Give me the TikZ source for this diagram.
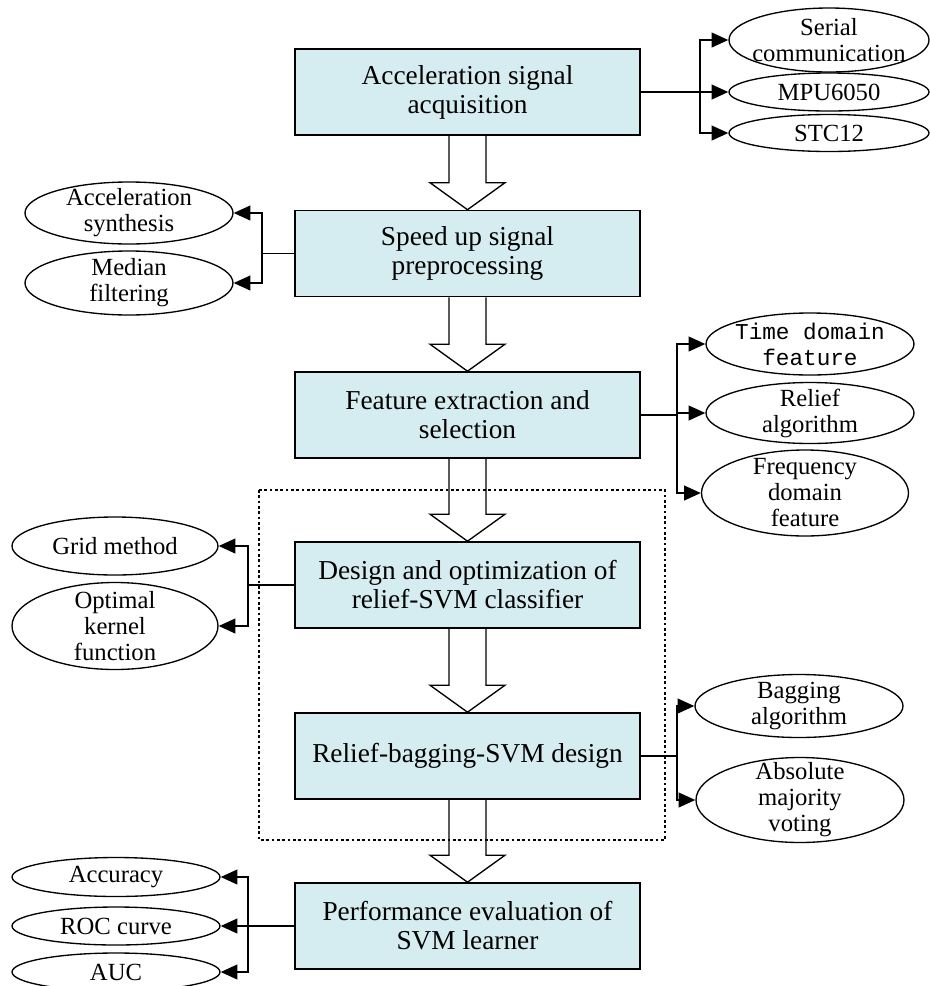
\documentclass[tikz,border=0pt]{standalone}
\usepackage{fontspec}
\setmainfont{Liberation Serif}
\setmonofont{Liberation Mono}
\usetikzlibrary{arrows.meta,shapes.geometric,calc}
\definecolor{boxfill}{RGB}{213,236,240}

\begin{document}
\begin{tikzpicture}[x=0.75pt, y=-0.75pt,
  box/.style={draw, line width=1.2pt, fill=boxfill, minimum width=258.75pt, minimum height=64.5pt, align=center, font=\fontsize{20.5}{21.75}\selectfont},
  oval/.style 2 args={draw, ellipse, line width=1pt, inner sep=0pt, minimum width=#1*0.75pt, minimum height=#2*0.75pt},
  otext/.style={align=center, inner sep=0pt, font=\fontsize{18.5}{19.5}\selectfont},
  line/.style={line width=1.4pt},
  arr/.style={line, -{Triangle[length=12.5pt,width=11pt]}},
  hollow/.style={line width=1pt, line join=miter},
  frame/.style={line width=1.2pt, dash pattern=on 2pt off 2pt}]
  \useasboundingbox (0,0) rectangle (930,986);

  % main flow
  \node[box] (acq) at (467.5,92) {Acceleration signal\\acquisition};
  \node[box] (prep) at (467.5,253.5) {Speed up signal\\preprocessing};
  \node[box] (feat) at (467.5,415) {Feature extraction and\\selection};
  \node[box] (svm) at (467.5,585) {Design and optimization of\\relief-SVM classifier};
  \node[box] (bagsvm) at (467.5,756) {Relief-bagging-SVM design};
  \node[box] (eval) at (467.5,926) {Performance evaluation of\\SVM learner};

  \foreach \a/\b in {acq/prep,prep/feat,feat/svm,svm/bagsvm,bagsvm/eval}
    \draw[hollow] ($(\a.south)+(-18.5,0)$) -- ($(\b.north)+(-18.5,-27)$) -- ($(\b.north)+(-37.5,-27)$)
      -- (\b.north) -- ($(\b.north)+(37.5,-27)$) -- ($(\b.north)+(18.5,-27)$) -- ($(\a.south)+(18.5,0)$);

  \draw[frame] (259,490) rectangle (665,840);

  % acquisition
  \node[oval={200}{64}, label={[otext]center:Serial\\communication}] (serial) at (829,40) {};
  \node[oval={200}{38}, label={[otext]center:MPU6050}] (mpu) at (829,92) {};
  \node[oval={200}{37}, label={[otext]center:STC12}] (stc) at (829,133) {};
  \coordinate (jacq) at (700,92);
  \draw[line] (acq.east) -- (jacq);
  \foreach \e in {serial,mpu,stc} \draw[arr] (jacq) |- (\e.west);

  % preprocessing
  \node[oval={208}{62}, label={[otext]center:Acceleration\\synthesis}] (accsyn) at (129,213) {};
  \node[oval={208}{64}, label={[otext]center:Median\\filtering}] (median) at (129,283) {};
  \coordinate (jprep) at (262,253.5);
  \draw[line] (prep.west) -- (jprep);
  \foreach \e in {accsyn,median} \draw[arr] (jprep) |- (\e.east);

  % features
  \node[oval={208}{62}, label={[otext, font=\fontsize{17}{19.5}\ttfamily]center:Time domain\\feature}] (timef) at (810,344) {};
  \node[oval={208}{61}, label={[otext]center:Relief\\algorithm}] (relief) at (810,413) {};
  \node[oval={207}{86}, label={[otext]center:Frequency\\domain\\feature}] (freq) at (805,493) {};
  \coordinate (jfeat) at (677,415);
  \draw[line] (feat.east) -- (jfeat);
  \foreach \e in {timef,relief,freq} \draw[arr] (jfeat) |- (\e.west);

  % classifier
  \node[oval={206}{58}, label={[otext]center:Grid method}] (grid) at (115,546) {};
  \node[oval={206}{87}, label={[otext]center:Optimal\\kernel\\function}] (kernel) at (115,626) {};
  \coordinate (jsvm) at (248,585);
  \draw[line] (svm.west) -- (jsvm);
  \foreach \e in {grid,kernel} \draw[arr] (jsvm) |- (\e.east);

  % bagging
  \node[oval={208}{63}, label={[otext]center:Bagging\\algorithm}] (bagalg) at (799,706) {};
  \node[oval={208}{85}, label={[otext]center:Absolute\\majority\\voting}] (absmaj) at (800,800) {};
  \coordinate (jbag) at (677,756);
  \draw[line] (bagsvm.east) -- (jbag);
  \foreach \e in {bagalg,absmaj} \draw[arr] (jbag) |- (\e.west);

  % evaluation
  \node[oval={208}{39}, label={[otext]center:Accuracy}] (accur) at (116,877) {};
  \node[oval={208}{38}, label={[otext]center:ROC curve}] (roc) at (116,926) {};
  \node[oval={208}{38}, label={[otext]center:AUC}] (auc) at (116,972) {};
  \coordinate (jeval) at (248,926);
  \draw[line] (eval.west) -- (jeval);
  \foreach \e in {accur,roc,auc} \draw[arr] (jeval) |- (\e.east);
\end{tikzpicture}
\end{document}
